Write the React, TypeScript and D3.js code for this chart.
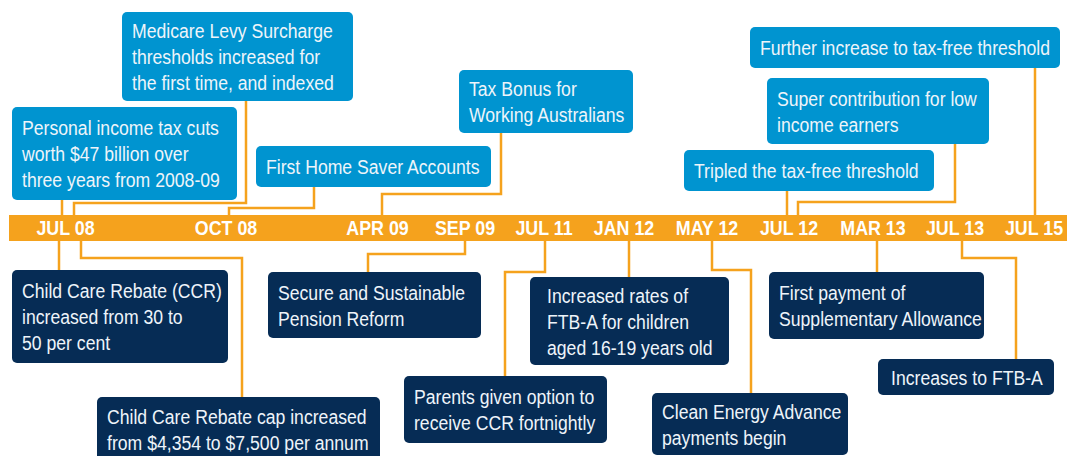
import { useEffect, useRef } from 'react';
import * as d3 from 'd3';

// timeline ticks shown on the orange bar
const tickLabels = ['JUL 08', 'OCT 08', 'APR 09', 'SEP 09', 'JUL 11', 'JAN 12', 'MAY 12', 'JUL 12', 'MAR 13', 'JUL 13', 'JUL 15'];

// events: text lines, tick they belong to, side of the bar
const eventTexts = [
  ['Personal income tax cuts', 'worth $47 billion over', 'three years from 2008-09'],
  ['Medicare Levy Surcharge', 'thresholds increased for', 'the first time, and indexed'],
  ['First Home Saver Accounts'],
  ['Tax Bonus for', 'Working Australians'],
  ['Tripled the tax-free threshold'],
  ['Super contribution for low', 'income earners'],
  ['Further increase to tax-free threshold'],
  ['Child Care Rebate (CCR)', 'increased from 30 to', '50 per cent'],
  ['Child Care Rebate cap increased', 'from $4,354 to $7,500 per annum'],
  ['Secure and Sustainable', 'Pension Reform'],
  ['Parents given option to', 'receive CCR fortnightly'],
  ['Increased rates of', 'FTB-A for children', 'aged 16-19 years old'],
  ['Clean Energy Advance', 'payments begin'],
  ['First payment of', 'Supplementary Allowance'],
  ['Increases to FTB-A'],
];
const eventTicks = ['JUL 08', 'JUL 08', 'OCT 08', 'APR 09', 'JUL 12', 'JUL 12', 'JUL 15',
  'JUL 08', 'JUL 08', 'SEP 09', 'JUL 11', 'JAN 12', 'MAY 12', 'MAR 13', 'JUL 13'];
const eventSide = ['top', 'top', 'top', 'top', 'top', 'top', 'top',
  'bottom', 'bottom', 'bottom', 'bottom', 'bottom', 'bottom', 'bottom', 'bottom'];

// layout only: box placement, connector exit x, elbow y, landing offset from tick centre
const boxLayout = [
  { x: 12, y: 107, w: 225, h: 93, ax: 62, ey: null, dx: -3.5 },
  { x: 122, y: 12, w: 231, h: 89, ax: 246, ey: 203, dx: 8.5 },
  { x: 256, y: 146, w: 235, h: 41, ax: 314, ey: 208, dx: 3 },
  { x: 459, y: 70, w: 174, h: 63, ax: 501, ey: 194, dx: 4.5 },
  { x: 684, y: 150, w: 250, h: 41, ax: 787, ey: null, dx: -2 },
  { x: 767, y: 78, w: 222, h: 66, ax: 955, ey: 202, dx: 9 },
  { x: 750, y: 27, w: 310, h: 41, ax: 1035, ey: null, dx: 1 },
  { x: 12, y: 270, w: 216, h: 93, ax: 59, ey: null, dx: -6.5 },
  { x: 97, y: 397, w: 283, h: 64, ax: 242, ey: 258, dx: 15.5 },
  { x: 268, y: 272, w: 213, h: 66, ax: 368, ey: 254, dx: 0 },
  { x: 404, y: 376, w: 203, h: 67, ax: 505, ey: 272, dx: 1 },
  { x: 530, y: 277, w: 199, h: 88, ax: 629, ey: null, dx: 5, pad: 17 },
  { x: 652, y: 393, w: 196, h: 62, ax: 751, ey: 270, dx: 5 },
  { x: 769, y: 272, w: 215, h: 67, ax: 877, ey: null, dx: 4 },
  { x: 878, y: 359, w: 176, h: 36, ax: 1016, ey: 258, dx: 7, pad: 13 },
];
const tickCentres = [65.5, 226, 377.5, 465, 544, 624, 707, 789, 873, 955, 1034];

const W = 1067;
const H = 456;
const BAR_TOP = 215;
const BAR_H = 26;
const ORANGE = '#f5a21d';
const LIGHT = '#0094d0';
const NAVY = '#062c55';
const FONT = "'Liberation Sans', Arial, sans-serif";
const SQUEEZE = 0.84; // condensed look

export default function App() {
  const svgRef = useRef<SVGSVGElement>(null);

  useEffect(() => {
    const svg = d3.select(svgRef.current);
    svg.selectAll('*').remove();

    const x = d3.scaleOrdinal<string, number>().domain(tickLabels).range(tickCentres);

    // connectors first, so boxes sit on top
    const conn = svg.append('g')
      .attr('fill', 'none')
      .attr('stroke', ORANGE)
      .attr('stroke-width', 2.5);

    eventTexts.forEach((_, i) => {
      const b = boxLayout[i];
      const top = eventSide[i] === 'top';
      const landX = x(eventTicks[i]) + b.dx;
      const barY = top ? BAR_TOP + 1 : BAR_TOP + BAR_H - 1;
      const boxY = top ? b.y + b.h : b.y;
      const path = d3.path();
      if (b.ey == null) {
        path.moveTo(landX, boxY);
        path.lineTo(landX, barY);
      } else {
        path.moveTo(b.ax, boxY);
        path.lineTo(b.ax, b.ey);
        path.lineTo(landX, b.ey);
        path.lineTo(landX, barY);
      }
      conn.append('path').attr('d', path.toString());
    });

    // orange bar
    svg.append('rect')
      .attr('x', 9)
      .attr('y', BAR_TOP)
      .attr('width', W - 9)
      .attr('height', BAR_H)
      .attr('fill', ORANGE);

    svg.append('g')
      .selectAll('text')
      .data(tickLabels)
      .join('text')
      .attr('transform', d => `translate(${x(d)},${BAR_TOP + 20}) scale(0.85,1)`)
      .attr('text-anchor', 'middle')
      .attr('fill', '#ffffff')
      .style('font-family', FONT)
      .style('font-weight', 'bold')
      .style('font-size', '21px')
      .text(d => d);

    // event boxes
    const boxes = svg.append('g')
      .selectAll('g')
      .data(eventTexts)
      .join('g')
      .attr('transform', (_, i) => `translate(${boxLayout[i].x},${boxLayout[i].y})`);

    boxes.append('rect')
      .attr('width', (_, i) => boxLayout[i].w)
      .attr('height', (_, i) => boxLayout[i].h)
      .attr('rx', 5)
      .attr('fill', (_, i) => (eventSide[i] === 'top' ? LIGHT : NAVY));

    boxes.each(function (lines, i) {
      const b = boxLayout[i];
      const g = d3.select(this);
      const first = b.h / 2 - (lines.length - 1) * 13 + 7.5;
      g.selectAll('text')
        .data(lines)
        .join('text')
        .attr('transform', (_, j) => `translate(${b.pad ?? 10},${first + j * 26}) scale(${SQUEEZE},1)`)
        .attr('fill', '#eef4fa')
        .style('font-family', FONT)
        .style('font-size', '21px')
        .text(d => d);
    });
  }, []);

  return (
    <svg
      ref={svgRef}
      width={W}
      height={H}
      style={{ position: 'absolute', left: 0, top: 0, background: '#ffffff' }}
    />
  );
}
